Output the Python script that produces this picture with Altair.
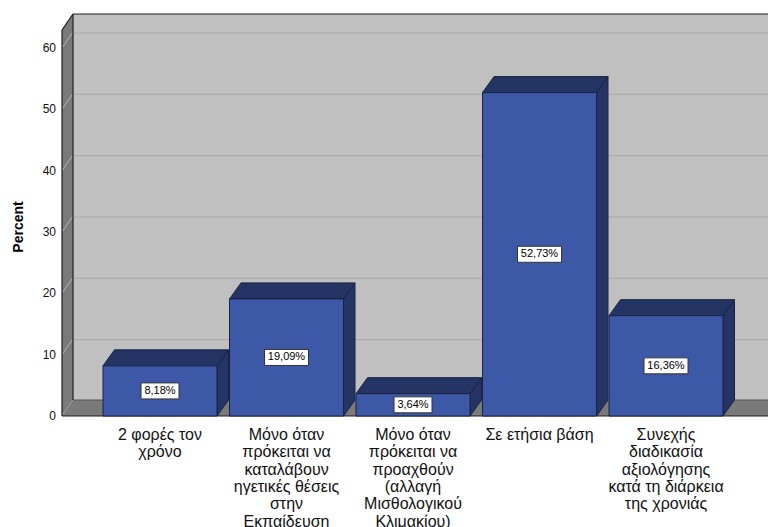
import altair as alt
import pandas as pd

# ---------------- data ----------------
categories = [
    "2 φορές τον\nχρόνο",
    "Μόνο όταν\nπρόκειται να\nκαταλάβουν\nηγετικές θέσεις\nστην\nΕκπαίδευση",
    "Μόνο όταν\nπρόκειται να\nπροαχθούν\n(αλλαγή\nΜισθολογικού\nΚλιμακίου)",
    "Σε ετήσια βάση",
    "Συνεχής\nδιαδικασία\nαξιολόγησης\nκατά τη διάρκεια\nτης χρονιάς",
]
percents = [8.18, 19.09, 3.64, 52.73, 16.36]
value_labels = ["8,18%", "19,09%", "3,64%", "52,73%", "16,36%"]
y_ticks = [0, 10, 20, 30, 40, 50, 60]
y_title = "Percent"

# ---------------- geometry (pixels -> data units) ----------------
W, H = 706, 402            # plot area (front plane + depth)
STEP = 126.5               # px per category
PXU = 368 / 60             # px per percent unit
X0 = -98 / STEP            # left edge of plot in category units
X1 = X0 + W / STEP
YMAX = H / PXU
HALF = 57 / STEP           # half bar width
DXB = 11.5 / STEP          # bar depth (x)
DXW = 11 / STEP            # wall depth (x)
DY = 16 / PXU              # depth (y)
DYG = 15 / PXU             # grid offset on back wall

FONT = "Liberation Sans"
FRONT = "#3e58a8"
SIDE = "#243464"
EDGE = "#1b2342"
WALL_DARK = "#7a7a7a"
WALL_LIGHT = "#c0c0c0"

xs = alt.Scale(domain=[X0, X1], nice=False, zero=False)
ys = alt.Scale(domain=[0, YMAX], nice=False, zero=False)


def X(f="x"):
    return alt.X(f"{f}:Q", scale=xs, axis=None)


def Y(f="y"):
    return alt.Y(f"{f}:Q", scale=ys, axis=None, stack=None)


# ---------------- walls ----------------
back = pd.DataFrame({"x": [X0 + DXW], "x2": [X1], "y": [DY], "y2": [YMAX]})
back_layer = alt.Chart(back).mark_rect(fill=WALL_LIGHT).encode(
    x=X(), x2="x2:Q", y=Y(), y2="y2:Q")

grid = pd.DataFrame({"y": [t + DYG for t in y_ticks[1:]]})
grid = grid.assign(x=X0 + DXW, x2=X1)
grid_layer = alt.Chart(grid).mark_rule(color="#a9a9a9", strokeWidth=1).encode(
    x=X(), x2="x2:Q", y=Y())

left = pd.DataFrame({"x": [X0, X0 + DXW], "y": [0, DY], "y2": [YMAX - DY, YMAX]})
left_layer = alt.Chart(left).mark_area(fill=WALL_DARK, opacity=1).encode(
    x=X(), y=Y(), y2="y2:Q")

slants = pd.DataFrame({"y": y_ticks, "y2": [t + DY for t in y_ticks]})
slants = slants.assign(x=X0, x2=X0 + DXW)
slant_layer = alt.Chart(slants).mark_rule(color="#b4b4b4", strokeWidth=1).encode(
    x=X(), x2="x2:Q", y=Y(), y2="y2:Q")

floor = pd.DataFrame({"x": [X0, X0 + DXW, X1], "y": [0, 0, 0], "y2": [0, DY, DY]})
floor_layer = alt.Chart(floor).mark_area(fill=WALL_DARK, opacity=1).encode(
    x=X(), y=Y(), y2="y2:Q")

edges = pd.DataFrame({
    "x":  [X0, X0, X0 + DXW, X0, X0 + DXW, X0 + DXW],
    "x2": [X0, X1, X1, X0 + DXW, X0 + DXW, X1],
    "y":  [0, 0, YMAX, YMAX - DY, DY, DY],
    "y2": [YMAX - DY, 0, YMAX, YMAX, YMAX, DY],
    "c":  ["a", "a", "a", "a", "a", "b"],
})
edge_layer = alt.Chart(edges).mark_rule(strokeWidth=1.2).encode(
    x=X(), x2="x2:Q", y=Y(), y2="y2:Q",
    color=alt.Color("c:N", scale=alt.Scale(domain=["a", "b"], range=["#1e1e1e", "#555555"]),
                    legend=None))

# ---------------- y axis (text) ----------------
yt = pd.DataFrame({"v": y_ticks, "t": [str(t) for t in y_ticks]})
ytick_layer = alt.Chart(yt).mark_text(font=FONT, fontSize=12, color="#111",
                                      align="right", baseline="middle").encode(
    x=alt.value(-6), y=Y("v"), text="t:N")
ytitle_layer = alt.Chart(pd.DataFrame({"t": [y_title]})).mark_text(
    font=FONT, fontSize=14, fontWeight="bold", color="#000", angle=270,
    align="center", baseline="middle").encode(
    x=alt.value(-43), y=alt.value(213), text="t:N")

# ---------------- bars ----------------
idx = list(range(len(percents)))
front = pd.DataFrame({"x": [i - HALF for i in idx], "x2": [i + HALF for i in idx],
                      "y": [0.0] * len(idx), "y2": percents})
front_layer = alt.Chart(front).mark_rect(fill=FRONT, stroke=EDGE, strokeWidth=1).encode(
    x=X(), x2="x2:Q", y=Y(), y2="y2:Q")

top_rows = []
side_rows = []
for i, v in zip(idx, percents):
    xl, xr = i - HALF, i + HALF
    top_rows += [
        {"b": i, "x": xl, "y": v, "y2": v},
        {"b": i, "x": xl + DXB, "y": v, "y2": v + DY},
        {"b": i, "x": xr, "y": v, "y2": v + DY},
        {"b": i, "x": xr + DXB, "y": v + DY, "y2": v + DY},
    ]
    side_rows += [
        {"b": i, "x": xr, "y": 0, "y2": v},
        {"b": i, "x": xr + DXB, "y": DY, "y2": v + DY},
    ]
top_layer = alt.Chart(pd.DataFrame(top_rows)).mark_area(
    fill=SIDE, stroke=EDGE, strokeWidth=1, opacity=1).encode(
    x=X(), y=Y(), y2="y2:Q", detail="b:N")
side_layer = alt.Chart(pd.DataFrame(side_rows)).mark_area(
    fill=SIDE, stroke=EDGE, strokeWidth=1, opacity=1).encode(
    x=X(), y=Y(), y2="y2:Q", detail="b:N")

# ---------------- value labels ----------------
lab = pd.DataFrame({"i": idx, "v": percents, "t": value_labels})
lab["hw"] = [(6 * len(t) + 8) / 2 / STEP for t in value_labels]
lab["x"] = lab["i"] - lab["hw"]
lab["x2"] = lab["i"] + lab["hw"]
lab["y"] = lab["v"] / 2 - 8 / PXU
lab["y2"] = lab["v"] / 2 + 8 / PXU
lab["ym"] = lab["v"] / 2
box_layer = alt.Chart(lab).mark_rect(fill="white", stroke="#333333", strokeWidth=1).encode(
    x=X(), x2="x2:Q", y=Y(), y2="y2:Q")
txt_layer = alt.Chart(lab).mark_text(font=FONT, fontSize=11, color="#000",
                                     baseline="middle", align="center").encode(
    x=X("i"), y=Y("ym"), text="t:N")

# ---------------- category labels ----------------
cats = pd.DataFrame({"i": idx, "c": categories})
cat_layer = alt.Chart(cats).mark_text(font=FONT, fontSize=16, color="#111",
                                      baseline="top", align="center",
                                      lineBreak="\n", lineHeight=17.3).encode(
    x=X("i"), y=alt.value(413), text="c:N")

chart = alt.layer(
    back_layer, grid_layer, left_layer, slant_layer, floor_layer, edge_layer,
    side_layer, top_layer, front_layer, box_layer, txt_layer, cat_layer,
    ytick_layer, ytitle_layer,
).properties(
    width=W, height=H,
    autosize=alt.AutoSizeParams(type="none"),
    padding={"left": 62, "top": 14, "right": 0, "bottom": 111},
    background="white",
).configure_view(strokeWidth=0)

chart.save("out.html", embed_options={"renderer": "svg", "actions": False})
